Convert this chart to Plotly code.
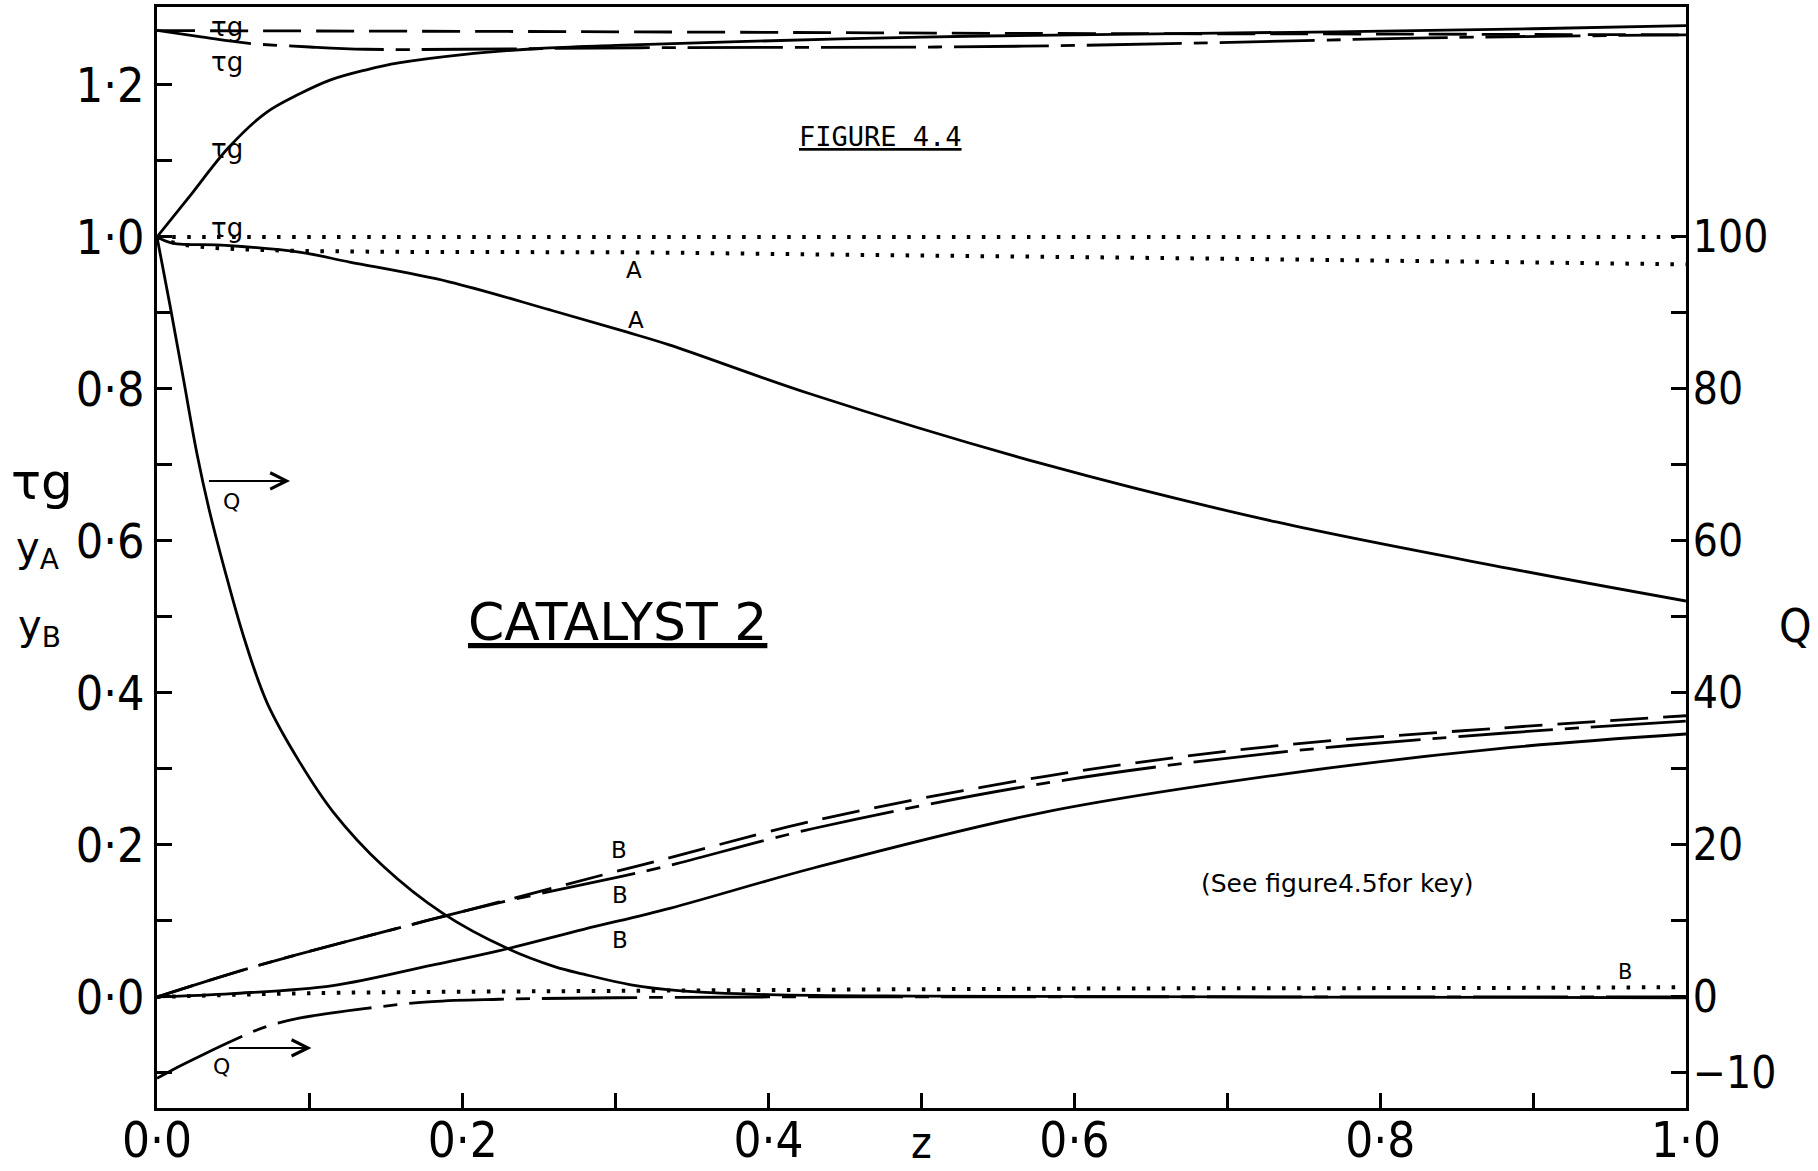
import plotly.graph_objects as go

# ---- profiles along the reactor, z = 0 .. 1 ----
# gas temperature tau_g (left axis)
z_tau_solid = [0, 0.02, 0.047, 0.071, 0.093, 0.114, 0.137, 0.158, 0.2, 0.25, 0.3, 0.38, 0.5, 0.6, 0.77, 0.9, 1.0]
tau_solid = [1.0, 1.05, 1.118, 1.163, 1.188, 1.207, 1.22, 1.229, 1.240, 1.248, 1.252, 1.257, 1.263, 1.266, 1.270, 1.274, 1.278]

z_tau_dash = [0, 0.3, 0.55, 0.8, 1.0]
tau_dash = [1.2715, 1.270, 1.268, 1.267, 1.266]

z_tau_dashdot = [0, 0.03, 0.059, 0.1, 0.136, 0.2, 0.316, 0.51, 0.6, 0.702, 0.831, 1.0]
tau_dashdot = [1.272, 1.263, 1.255, 1.250, 1.247, 1.247, 1.249, 1.250, 1.252, 1.256, 1.262, 1.266]

z_tau_dot = [0, 0.5, 1.0]
tau_dot = [1.0, 1.0, 1.0]

# mole fraction of A
z_yA_solid = [0, 0.01, 0.045, 0.093, 0.126, 0.191, 0.257, 0.307, 0.335, 0.428, 0.58, 0.732, 0.884, 1.0]
yA_solid = [1.0, 0.992, 0.989, 0.980, 0.967, 0.941, 0.904, 0.875, 0.858, 0.793, 0.701, 0.625, 0.564, 0.521]

z_yA_dot = [0, 0.02, 0.35, 0.67, 1.0]
yA_dot = [1.0, 0.989, 0.979, 0.972, 0.964]

# mole fraction of B
z_yB_solid = [0, 0.049, 0.115, 0.18, 0.224, 0.279, 0.336, 0.43, 0.58, 0.732, 0.884, 1.0]
yB_solid = [0, 0.0044, 0.015, 0.042, 0.061, 0.089, 0.117, 0.170, 0.243, 0.292, 0.328, 0.346]

z_yB_dash = [0, 0.063, 0.124, 0.224, 0.3, 0.335, 0.43, 0.58, 0.73, 0.88, 1.0]
yB_dash = [0, 0.0395, 0.073, 0.125, 0.165, 0.183, 0.232, 0.290, 0.330, 0.354, 0.370]

z_yB_dashdot = [0, 0.063, 0.124, 0.224, 0.3, 0.335, 0.43, 0.58, 0.73, 0.88, 1.0]
yB_dashdot = [0, 0.0395, 0.073, 0.124, 0.157, 0.173, 0.222, 0.281, 0.321, 0.347, 0.363]

z_yB_dot = [0, 0.1, 0.3, 0.6, 0.9, 1.0]
yB_dot = [0, 0.005, 0.008, 0.011, 0.012, 0.013]

# heat term Q (right axis)
z_Q_solid = [0, 0.0085, 0.0173, 0.0262, 0.034, 0.044, 0.057, 0.072, 0.093, 0.115, 0.148, 0.187,
             0.229, 0.26, 0.279, 0.31, 0.343, 0.4, 0.5, 0.7, 1.0]
Q_solid = [100, 91.0, 81.3, 71.4, 64.2, 56.4, 47.2, 38.7, 31.0, 24.4, 17.2, 11.0,
           6.4, 4.0, 3.0, 1.6, 0.8, 0.3, 0.1, 0.0, -0.1]

z_Q_dashdot = [0, 0.01, 0.03, 0.05, 0.07, 0.093, 0.137, 0.18, 0.224, 0.3, 0.4, 1.0]
Q_dashdot = [-10.7, -9.6, -7.6, -5.7, -4.0, -2.8, -1.5, -0.6, -0.3, -0.1, 0.0, 0.0]

# ---- axis ticks ----
x_ticks = [0, 0.1, 0.2, 0.3, 0.4, 0.5, 0.6, 0.7, 0.8, 0.9, 1.0]
x_ticktext = ["0·0", "", "0·2", "", "0·4", "", "0·6", "", "0·8", "", "1·0"]
y_ticks = [-0.1, 0, 0.1, 0.2, 0.3, 0.4, 0.5, 0.6, 0.7, 0.8, 0.9, 1.0, 1.1, 1.2]
y_ticktext = ["", "0·0", "", "0·2", "", "0·4", "", "0·6", "", "0·8", "", "1·0", "", "1·2"]
q_ticks = [-10, 0, 10, 20, 30, 40, 50, 60, 70, 80, 90, 100]
q_ticktext = ["−10", "0", "", "20", "", "40", "", "60", "", "80", "", "100"]

INK = "black"
NUM_FONT = "DejaVu Sans Condensed, Liberation Sans Narrow, DejaVu Sans"
TXT_FONT = "DejaVu Sans, Liberation Sans"
MONO_FONT = "DejaVu Sans Mono, Liberation Mono"

DASH = "38px,15px"
DASHDOT = "95px,12px,14px,12px"
DOT = "3.5px,11.5px"

fig = go.Figure()


def curve(x, y, dash, axis="y", width=2.8):
    fig.add_trace(go.Scatter(
        x=x, y=y, yaxis=axis, mode="lines",
        line=dict(color=INK, width=width, dash=dash, shape="spline", smoothing=1.0),
        hoverinfo="skip", showlegend=False,
    ))


# tau_g
curve(z_tau_solid, tau_solid, "solid")
curve(z_tau_dash, tau_dash, DASH)
curve(z_tau_dashdot, tau_dashdot, DASHDOT)
curve(z_tau_dot, tau_dot, DOT, width=4)
# y_A
curve(z_yA_solid, yA_solid, "solid")
curve(z_yA_dot, yA_dot, DOT, width=4)
# y_B
curve(z_yB_solid, yB_solid, "solid")
curve(z_yB_dash, yB_dash, DASH)
curve(z_yB_dashdot, yB_dashdot, DASHDOT)
curve(z_yB_dot, yB_dot, DOT, width=4)
# Q on the right-hand axis
curve(z_Q_solid, Q_solid, "solid", axis="y2")
curve(z_Q_dashdot, Q_dashdot, DASHDOT, axis="y2")


def label(x, y, text, size=22, family=TXT_FONT, **kw):
    fig.add_annotation(x=x, y=y, xref="x", yref="y", text=text, showarrow=False,
                       font=dict(family=family, size=size, color=INK),
                       xanchor="center", yanchor="middle", **kw)


def caption(x, y, text, size, family=TXT_FONT):
    fig.add_annotation(x=x, y=y, xref="paper", yref="paper", text=text, showarrow=False,
                       font=dict(family=family, size=size, color=INK),
                       xanchor="center", yanchor="middle")


# curve labels
for ty in [1.276, 1.230, 1.116, 1.012]:
    label(0.046, ty, "τg", size=26)
label(0.312, 0.957, "A", size=23)
label(0.313, 0.891, "A", size=23)
label(0.302, 0.193, "B", size=23)
label(0.303, 0.134, "B", size=23)
label(0.303, 0.075, "B", size=23)
label(0.960, 0.033, "B", size=21)
label(0.049, 0.652, "Q", size=22)
label(0.0425, -0.091, "Q", size=22)

# arrows pointing Q curves to the right-hand scale
for ya, x0, x1 in [(0.679, 0.033, 0.087), (-0.067, 0.046, 0.101)]:
    fig.add_annotation(x=x1, y=ya, ax=x0, ay=ya, xref="x", yref="y", axref="x", ayref="y",
                       text="", showarrow=True, arrowhead=5, arrowsize=1.6,
                       arrowwidth=2, arrowcolor=INK)

# titles inside the frame
fig.add_annotation(x=0.473, y=1.132, xref="x", yref="y", text="FIGURE 4.4", showarrow=False,
                   font=dict(family=MONO_FONT, size=27, color=INK, lineposition="under"),
                   xanchor="center", yanchor="middle")
fig.add_annotation(x=0.301, y=0.493, xref="x", yref="y", text="CATALYST 2", showarrow=False,
                   font=dict(family=TXT_FONT, size=52, color=INK, lineposition="under"),
                   xanchor="center", yanchor="middle")
label(0.772, 0.149, "(See figure4.5for key)", size=25)

# axis captions
caption(0.5, -0.031, "z", 44, NUM_FONT)
caption(-0.0752, 0.569, "τg", 50)
caption(-0.078, 0.507, "y<sub>A</sub>", 40)
caption(-0.077, 0.436, "y<sub>B</sub>", 40)
caption(1.0713, 0.438, "Q", 46, NUM_FONT)

axis_common = dict(
    showgrid=False, zeroline=False, showline=True, linewidth=3, linecolor=INK,
    ticks="inside", ticklen=15, tickwidth=2.5, tickcolor=INK,
    tickmode="array", automargin=False,
)

fig.update_layout(
    template="none",
    width=1818, height=1171,
    margin=dict(l=157, r=132, t=7, b=63, pad=0),
    paper_bgcolor="white", plot_bgcolor="white",
    showlegend=False,
    xaxis=dict(range=[0, 1], tickvals=x_ticks, ticktext=x_ticktext, mirror=True,
               ticklabelstandoff=-13,
               tickfont=dict(family=NUM_FONT, size=49, color=INK), **axis_common),
    yaxis=dict(range=[-0.1461, 1.3026], tickvals=y_ticks, ticktext=y_ticktext, mirror=True,
               tickfont=dict(family=NUM_FONT, size=48, color=INK), **axis_common),
    yaxis2=dict(range=[-14.61, 130.26], tickvals=q_ticks, ticktext=q_ticktext,
                overlaying="y", side="right", ticklabelstandoff=-5,
                tickfont=dict(family=NUM_FONT, size=44, color=INK), **axis_common),
)

fig.write_html("out.html")
